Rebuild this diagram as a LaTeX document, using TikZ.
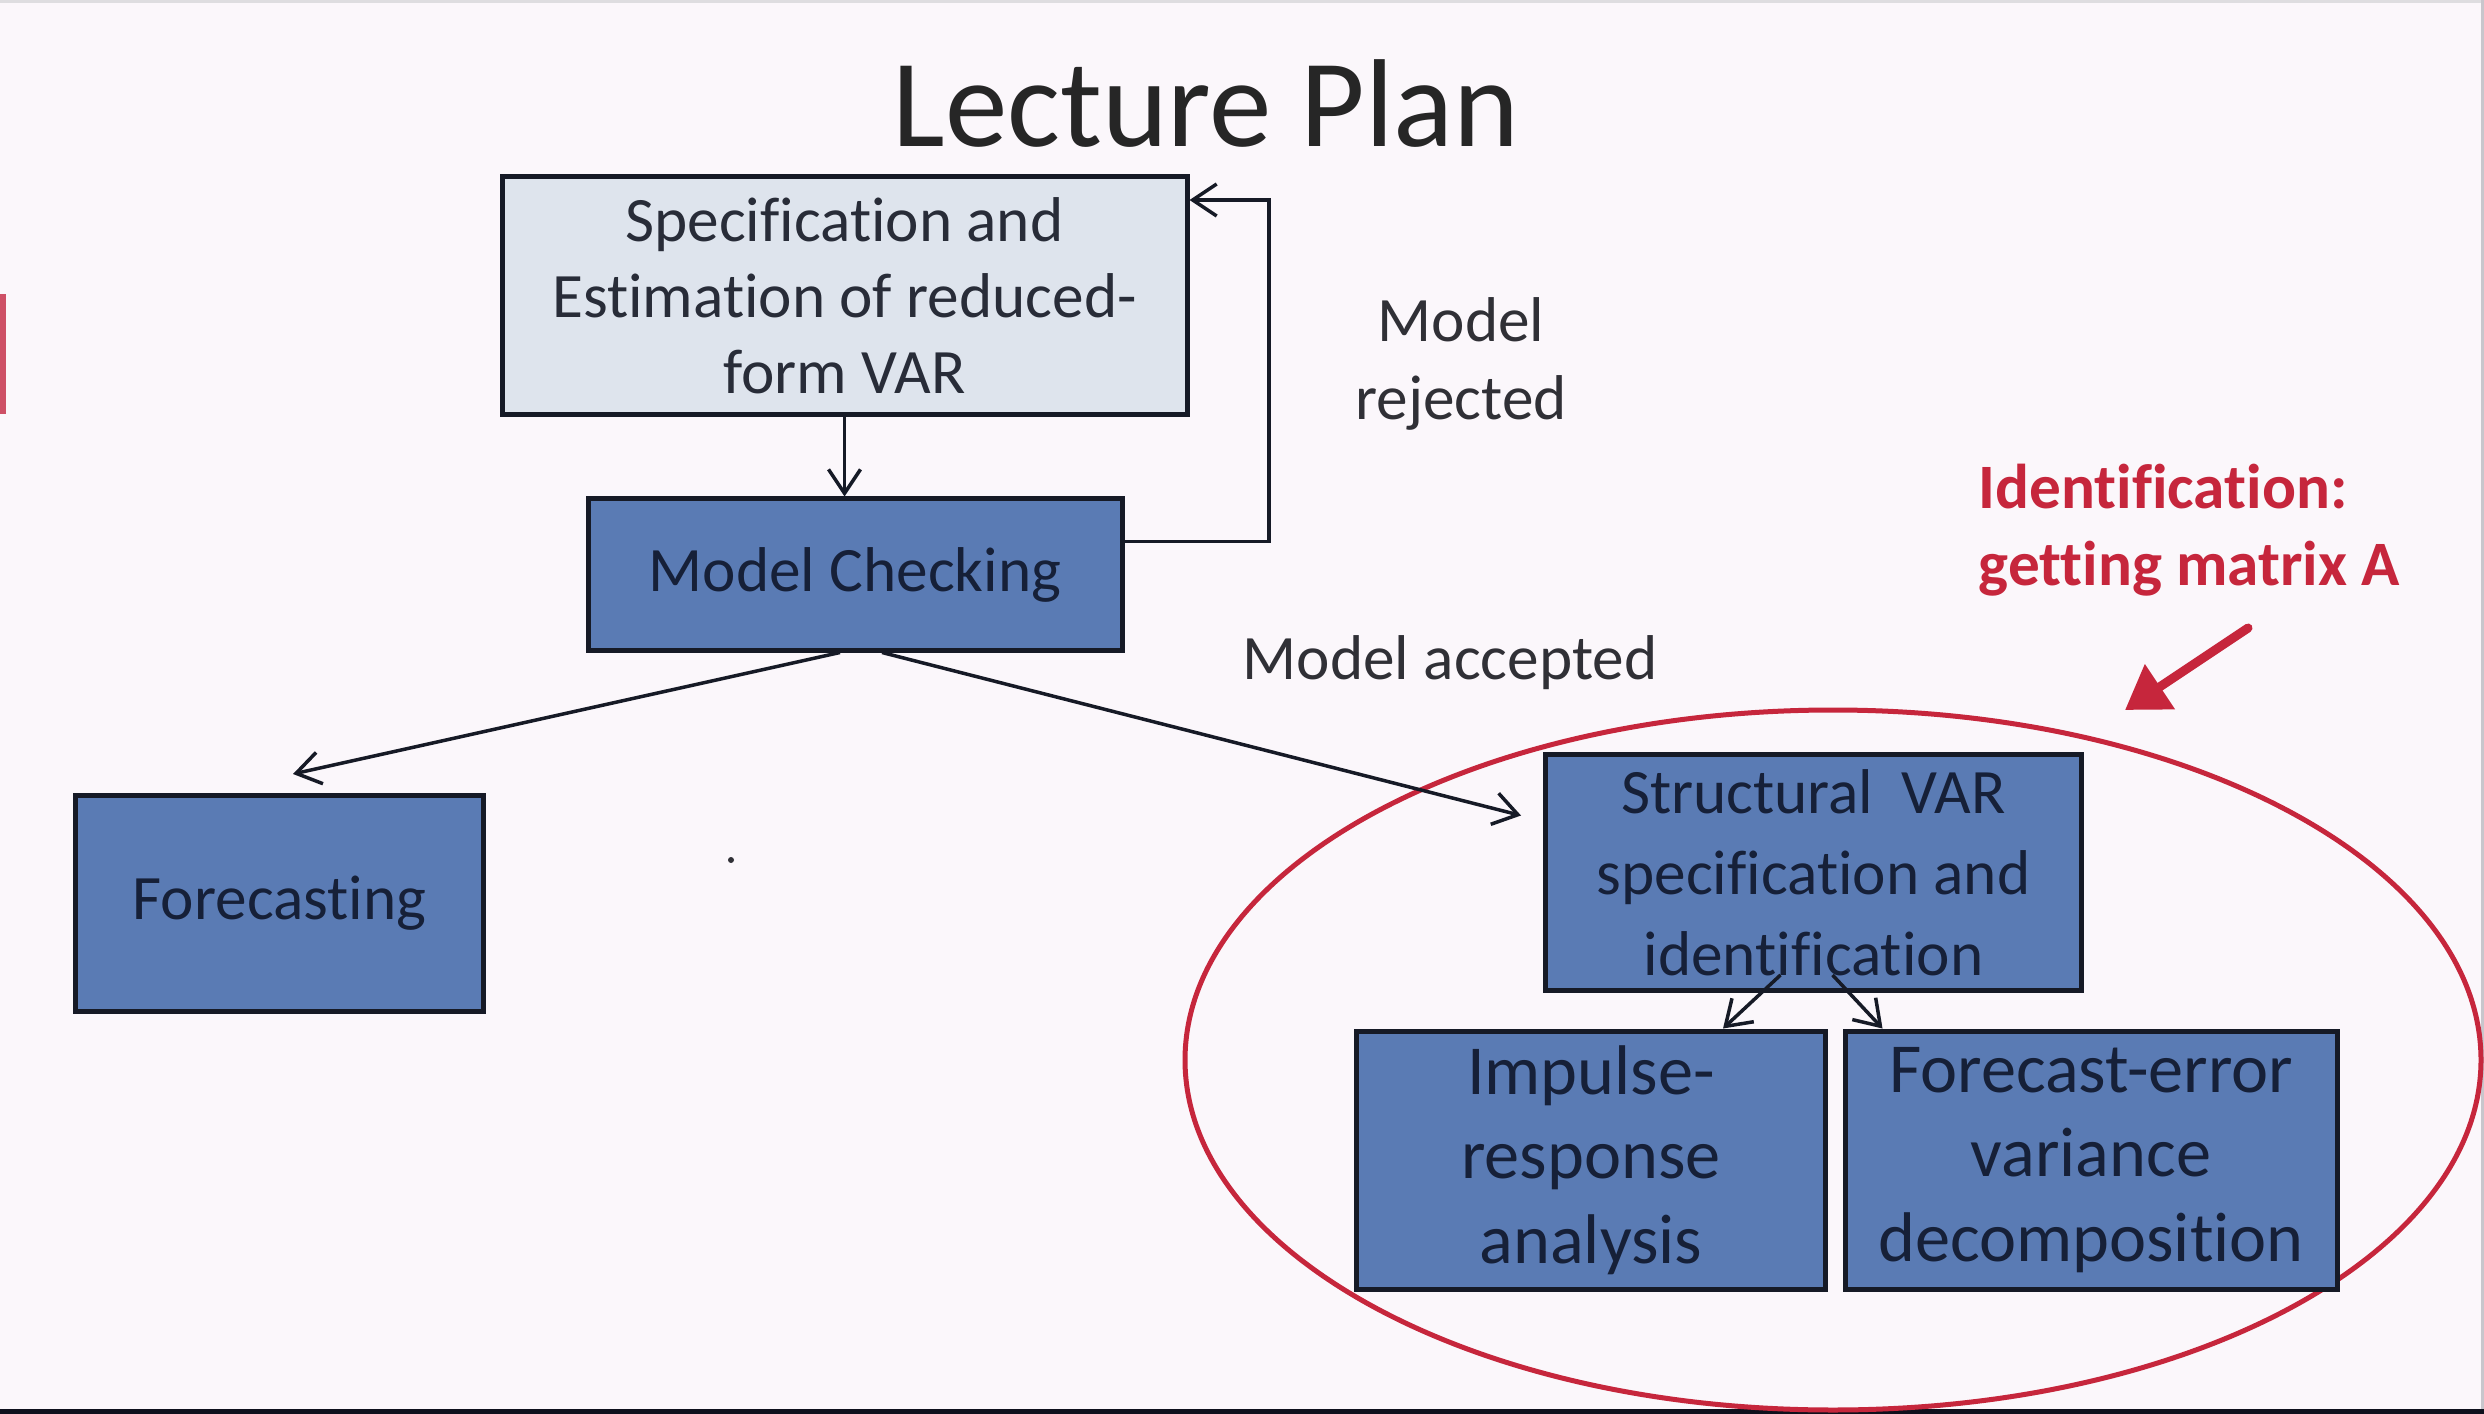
\documentclass[tikz,border=0pt]{standalone}
\usepackage{fontspec}
\setmainfont{Carlito}[Ligatures={NoCommon}]
\usetikzlibrary{arrows.meta}

\definecolor{pagebg}{RGB}{251,247,251}
\definecolor{boxblue}{RGB}{90,123,180}
\definecolor{boxpale}{RGB}{222,228,237}
\definecolor{boxline}{RGB}{22,26,38}
\definecolor{boxtext}{RGB}{22,32,56}
\definecolor{paletext}{RGB}{40,44,56}
\definecolor{labeltext}{RGB}{48,48,54}
\definecolor{accentred}{RGB}{198,38,60}
\definecolor{sidebar}{RGB}{206,80,102}
\definecolor{footbar}{RGB}{14,16,28}
\definecolor{edgegray}{RGB}{200,198,204}

\begin{document}
\begin{tikzpicture}[x=0.1mm, y=-0.1mm,
  box/.style={draw=boxline, line width=0.5mm, fill=boxblue, text=boxtext,
    align=center, inner sep=0pt},
  txtA/.style={font=\fontsize{18pt}{21.6pt}\selectfont},
  txtB/.style={font=\fontsize{18pt}{23pt}\selectfont},
  txtC/.style={font=\fontsize{20pt}{24pt}\selectfont},
  lbl/.style={text=labeltext, align=center, inner sep=0pt,
    font=\fontsize{18pt}{22pt}\selectfont},
  conn/.style={draw=boxline, line width=0.35mm,
    -{Straight Barb[length=2.4mm, width=3.2mm]}},
  redarrow/.style={draw=accentred, line width=0.9mm, line cap=round,
    -{Triangle[length=4.2mm, width=5.2mm]}}
]
% page
\useasboundingbox (0,0) rectangle (2484,1414);
\fill[pagebg] (0,0) rectangle (2484,1414);
\fill[edgegray!60] (0,0) rectangle (2484,3);
\fill[edgegray] (2481,0) rectangle (2484,1409);
\fill[footbar] (0,1409) rectangle (2484,1414);
\fill[sidebar] (0,294) rectangle (6,414);
\fill[labeltext] (731,860) circle [radius=0.3mm];

% title
\node[anchor=base, text=black!85, inner sep=0pt,
  font=\fontsize{35.6pt}{40pt}\selectfont] (title) at (1206,147) {Lecture Plan};

% highlight ellipse around the structural part
\draw[accentred, line width=0.5mm] (1833,1060) ellipse [x radius=64.8mm, y radius=35mm];

% boxes
\node[box, txtA, fill=boxpale, text=paletext, minimum width=68.5mm, minimum height=23.8mm]
  (spec) at (844.5,296) {Specification and\\Estimation of reduced-\\form VAR};
\node[box, txtA, minimum width=53.4mm, minimum height=15.1mm]
  (mc) at (855,574.5) {Model Checking};
\node[box, txtA, minimum width=40.8mm, minimum height=21.6mm]
  (fc) at (279.5,903.5) {\raisebox{-0.4mm}{Forecasting}};
\node[box, txtB, minimum width=53.6mm, minimum height=23.6mm]
  (svar) at (1813.5,872.5) {Structural\ \ VAR\\specification and\\identification};
\node[box, txtC, minimum width=46.9mm, minimum height=25.8mm]
  (imp) at (1591,1160) {Impulse-\\response\\analysis};
\node[box, txtC, minimum width=49.2mm, minimum height=25.8mm]
  (fevd) at (2091,1160) {Forecast-error\\variance\\decomposition};

% labels
\node[lbl] (rej) at (1461,364) {Model\\rejected};
\node[lbl, anchor=base] (acc) at (1450,679) {Model accepted};
\node[text=accentred, align=left, anchor=west, inner sep=0pt,
  font=\bfseries\fontsize{18pt}{21.8pt}\selectfont] (idnote) at (1978,530)
  {Identification:\\getting matrix A};

% connectors
\coordinate (fbk) at (1269,200);
\draw[conn] (spec.south) -- (spec.south |- mc.north);
\draw[conn] ([yshift=3.3mm]mc.east) -| (fbk) -- (spec.east |- fbk);
\draw[conn] ([xshift=-1.5mm]mc.south) -- ([xshift=1.35mm, yshift=1.9mm]fc.north);
\draw[conn] ([xshift=2.7mm]mc.south) -- ([xshift=-2.2mm, yshift=5.7mm]svar.west);
\draw[conn] ([xshift=-3.3mm, yshift=1.8mm]svar.south) -- ([xshift=13.2mm]imp.north);
\draw[conn] ([xshift=1.9mm, yshift=1.8mm]svar.south) -- ([xshift=4mm]fevd.north west);

% pointer to the ellipse
\coordinate (ptail) at (2248,628);
\coordinate (phead) at (2125,710);
\draw[redarrow] (ptail) -- (phead);
\end{tikzpicture}
\end{document}
